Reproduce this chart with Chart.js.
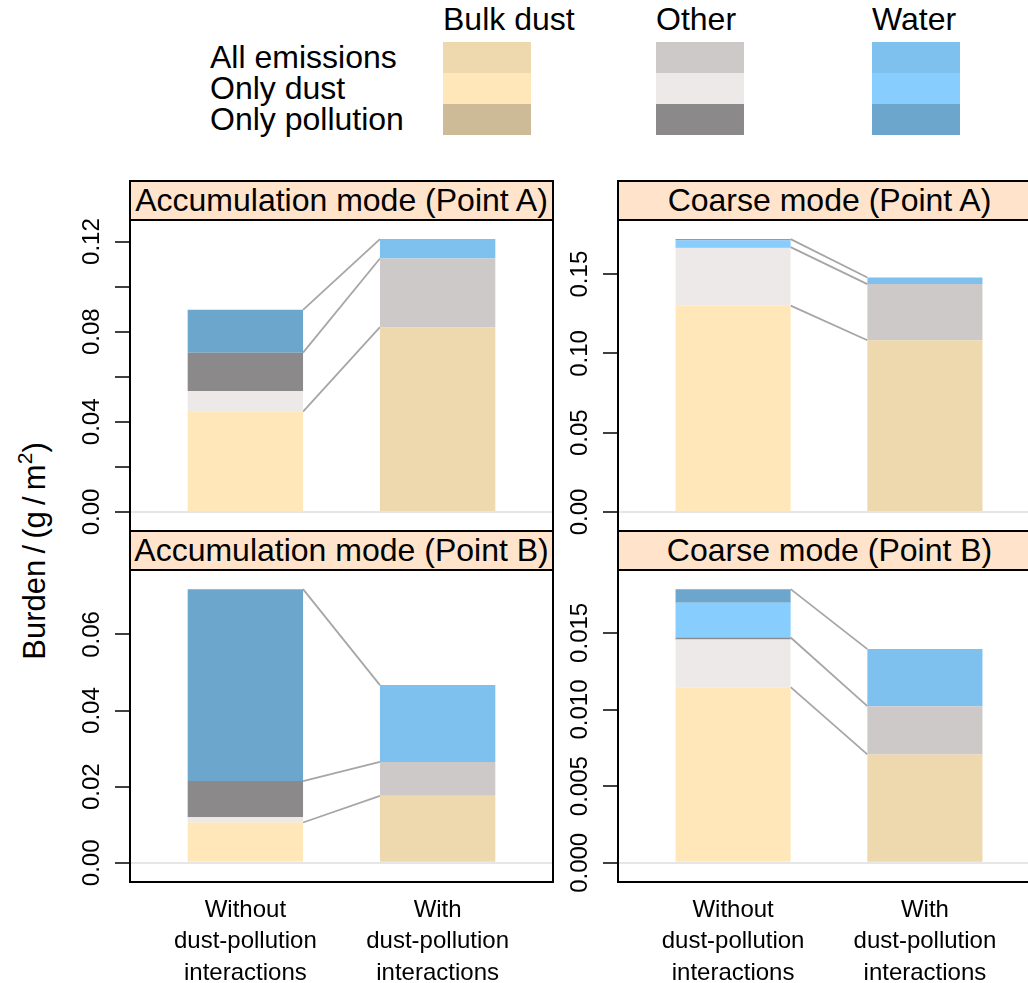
<!DOCTYPE html>
<html>
<head>
<meta charset="utf-8">
<script src="https://cdn.jsdelivr.net/npm/chart.js@4.4.1/dist/chart.umd.min.js"></script>
<style>
  body { margin: 0; width: 1028px; height: 983px; overflow: hidden; background: #fff;
         position: relative; font-family: "Liberation Sans", Arial, sans-serif; color: #000; }
  canvas { position: absolute; }
  .strip { position: absolute; height: 41px; background: #FFE4CB; border: 2px solid #000;
           box-sizing: border-box; font-size: 32px; line-height: 36px; text-align: center;
           white-space: nowrap; z-index: 2; }
  .lg { position: absolute; font-size: 32px; line-height: 31px; white-space: nowrap; }
  .sw { position: absolute; width: 88px; height: 31px; }
  #ytitle { position: absolute; left: 35px; top: 551px; font-size: 31px; white-space: nowrap;
            transform: translate(-50%, -50%) rotate(-90deg); }
  #ytitle sup { font-size: 21px; vertical-align: 13px; line-height: 0; }
</style>
</head>
<body>

<div id="legend"></div>
<div id="ytitle">Burden&#8201;/&#8201;(g&#8201;/&#8201;m<sup>2</sup>)</div>

<div class="strip" style="left:129px;top:180px;width:425px">Accumulation mode (Point A)</div>
<div class="strip" style="left:617px;top:180px;width:425px">Coarse mode (Point A)</div>
<div class="strip" style="left:129px;top:530px;width:425px">Accumulation mode (Point B)</div>
<div class="strip" style="left:617px;top:530px;width:425px">Coarse mode (Point B)</div>

<canvas id="accA" width="560" height="331" style="left:0;top:210px"></canvas>
<canvas id="coaA" width="490" height="331" style="left:560px;top:210px"></canvas>
<canvas id="accB" width="560" height="423" style="left:0;top:560px"></canvas>
<canvas id="coaB" width="490" height="423" style="left:560px;top:560px"></canvas>

<script>
// ---- data (component order: bulk dust, other, water) ----
const components = ['Bulk dust', 'Other', 'Water'];
const runs = ['All emissions', 'Only dust', 'Only pollution'];
const groupLabels = [['Without', 'dust-pollution', 'interactions'],
                     ['With', 'dust-pollution', 'interactions']];

const accA_allEmissions  = [0.0820, 0.0305, 0.0086];
const accA_onlyDust      = [0.0445, 0.0092, 0.0000];
const accA_onlyPollution = [0.0000, 0.0170, 0.0190];
const accA_ticks      = [0, 0.02, 0.04, 0.06, 0.08, 0.10, 0.12];
const accA_tickLabels = ['0.00', '', '0.04', '', '0.08', '', '0.12'];

const coaA_allEmissions  = [0.1083, 0.0354, 0.0042];
const coaA_onlyDust      = [0.1301, 0.0365, 0.0042];
const coaA_onlyPollution = [0.0000, 0.0004, 0.0009];
const coaA_ticks      = [0, 0.05, 0.10, 0.15];
const coaA_tickLabels = ['0.00', '0.05', '0.10', '0.15'];

const accB_allEmissions  = [0.0176, 0.0089, 0.0202];
const accB_onlyDust      = [0.0106, 0.0014, 0.0000];
const accB_onlyPollution = [0.0000, 0.0095, 0.0504];
const accB_ticks      = [0, 0.02, 0.04, 0.06];
const accB_tickLabels = ['0.00', '0.02', '0.04', '0.06'];

const coaB_allEmissions  = [0.00707, 0.00315, 0.00372];
const coaB_onlyDust      = [0.01146, 0.00311, 0.00226];
const coaB_onlyPollution = [0.00000, 0.00013, 0.00089];
const coaB_ticks      = [0, 0.005, 0.010, 0.015];
const coaB_tickLabels = ['0.000', '0.005', '0.010', '0.015'];

// colours per run, in component order
const colours = {
  'All emissions':  ['#EED8AE', '#CDC9C9', '#7EC0EE'],
  'Only dust':      ['#FFE7BA', '#EEE9E9', '#87CEFF'],
  'Only pollution': ['#CDBA96', '#8B8989', '#6CA6CD']
};

const FONT = '"Liberation Sans", Arial, sans-serif';
const BAR_FRAC = 0.6;

// ---- legend ----
const legend = document.getElementById('legend');
const colLeft = [443, 656, 872];
components.forEach((c, i) => {
  legend.insertAdjacentHTML('beforeend',
    `<div class="lg" style="left:${colLeft[i]}px;top:4px">${c}</div>`);
  runs.forEach((r, j) => {
    legend.insertAdjacentHTML('beforeend',
      `<div class="sw" style="left:${colLeft[i]}px;top:${42 + j * 31}px;background:${colours[r][i]}"></div>`);
  });
});
runs.forEach((r, j) => {
  legend.insertAdjacentHTML('beforeend',
    `<div class="lg" style="left:210px;top:${42 + j * 31}px">${r}</div>`);
});

// ---- panel frame + rotated y labels ----
const framePlugin = {
  id: 'frame',
  afterDraw(chart) {
    const { ctx, chartArea: a } = chart;
    const y = chart.scales.y;
    ctx.save();
    ctx.strokeStyle = '#000';
    ctx.lineWidth = 2;
    ctx.strokeRect(a.left, a.top, a.right - a.left, a.bottom - a.top);
    ctx.fillStyle = '#000';
    ctx.font = '24px ' + FONT;
    ctx.textAlign = 'center';
    ctx.textBaseline = 'middle';
    y.ticks.forEach(t => {
      if (!t.label) return;
      ctx.save();
      ctx.translate(a.left - 38, y.getPixelForValue(t.value));
      ctx.rotate(-Math.PI / 2);
      ctx.fillText(t.label, 0, 0);
      ctx.restore();
    });
    ctx.restore();
  }
};

function makePanel(id, all, dust, poll, ticks, tickLabels, opts) {
  const datasets = [];
  // without interactions: only dust + only pollution stacked per component
  for (let c = 0; c < 3; c++) {
    datasets.push({ data: [{ x: 1, y: dust[c] }], backgroundColor: colours['Only dust'][c] });
    datasets.push({ data: [{ x: 1, y: poll[c] }], backgroundColor: colours['Only pollution'][c] });
  }
  // with interactions: all emissions
  for (let c = 0; c < 3; c++) {
    datasets.push({ data: [{ x: 2, y: all[c] }], backgroundColor: colours['All emissions'][c] });
  }
  // connectors between cumulative component tops
  let cumA = 0, cumB = 0;
  for (let c = 0; c < 3; c++) {
    cumA += dust[c] + poll[c];
    cumB += all[c];
    datasets.push({
      type: 'line', stack: 'link' + c,
      data: [{ x: 1 + BAR_FRAC / 2, y: cumA }, { x: 2 - BAR_FRAC / 2, y: cumB }],
      borderColor: '#A6A6A6', borderWidth: 1.8, pointRadius: 0, fill: false
    });
  }
  const top = Math.max(cumA, cumB);

  new Chart(document.getElementById(id), {
    type: 'bar',
    data: { datasets },
    options: {
      responsive: false,
      animation: false,
      events: [],
      categoryPercentage: BAR_FRAC,
      barPercentage: 1,
      borderWidth: 0,
      layout: { padding: opts.padding },
      plugins: { legend: { display: false }, tooltip: { enabled: false } },
      scales: {
        x: {
          type: 'linear', stacked: true, offset: false, min: 0.4, max: 2.6,
          afterBuildTicks: s => { s.ticks = [{ value: 1 }, { value: 2 }]; },
          afterFit: s => { s.height = opts.xHeight; },
          grid: { display: false, drawTicks: false },
          border: { display: false },
          ticks: {
            display: opts.xHeight > 0,
            callback: v => groupLabels[v - 1],
            font: { family: FONT, size: 24, lineHeight: 1.3 },
            color: '#000', padding: 13, maxRotation: 0, autoSkip: false
          }
        },
        y: {
          type: 'linear', stacked: true,
          min: -0.07 * top, max: 1.07 * top,
          afterBuildTicks: s => { s.ticks = ticks.map(v => ({ value: v })); },
          afterFit: s => { s.width = opts.yWidth; },
          border: { display: false },
          grid: {
            color: c => (c.tick && c.tick.value === 0) ? '#E6E6E6' : 'rgba(0,0,0,0)',
            lineWidth: 2,
            drawTicks: true, tickLength: 15, tickColor: '#000', tickWidth: 1.5
          },
          ticks: {
            display: false,
            callback: (v, i) => tickLabels[i]
          }
        }
      }
    },
    plugins: [framePlugin]
  });
}

makePanel('accA', accA_allEmissions, accA_onlyDust, accA_onlyPollution, accA_ticks, accA_tickLabels,
  { padding: { top: 10, bottom: 10, left: 0, right: 7 }, yWidth: 130, xHeight: 0 });
makePanel('coaA', coaA_allEmissions, coaA_onlyDust, coaA_onlyPollution, coaA_ticks, coaA_tickLabels,
  { padding: { top: 10, bottom: 10, left: 0, right: 10 }, yWidth: 58, xHeight: 0 });
makePanel('accB', accB_allEmissions, accB_onlyDust, accB_onlyPollution, accB_ticks, accB_tickLabels,
  { padding: { top: 10, bottom: 0, left: 0, right: 7 }, yWidth: 130, xHeight: 101 });
makePanel('coaB', coaB_allEmissions, coaB_onlyDust, coaB_onlyPollution, coaB_ticks, coaB_tickLabels,
  { padding: { top: 10, bottom: 0, left: 0, right: 10 }, yWidth: 58, xHeight: 101 });
</script>
</body>
</html>
